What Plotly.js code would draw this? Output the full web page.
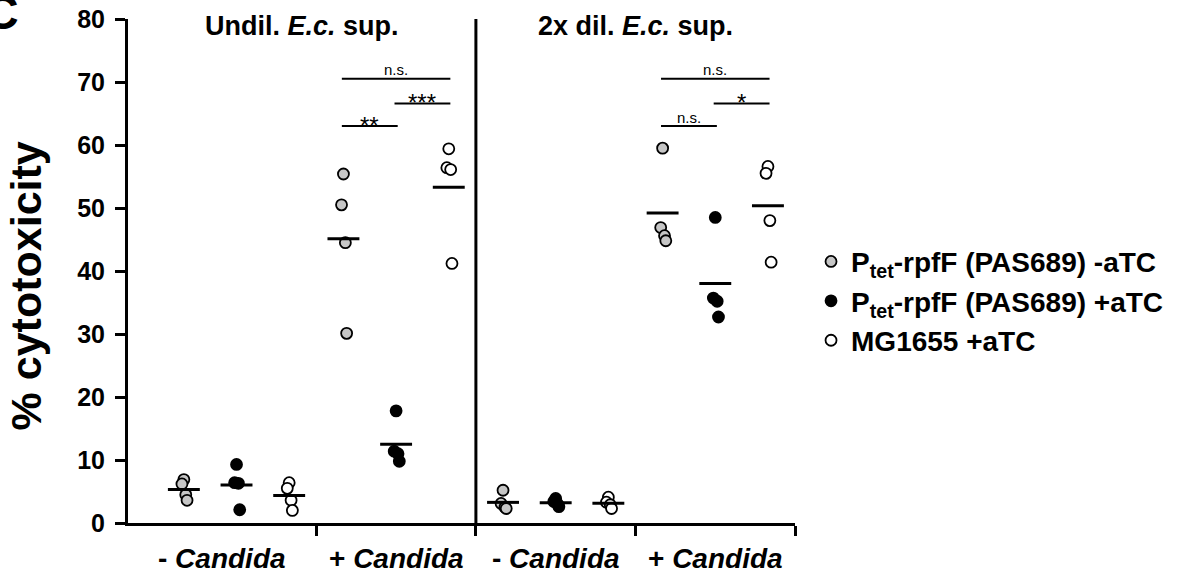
<!DOCTYPE html>
<html>
<head>
<meta charset="utf-8">
<script src="https://cdn.plot.ly/plotly-3.0.1.min.js"></script>
<style>html,body{margin:0;padding:0;background:#fff;}#chart{width:1179px;height:573px;}</style>
</head>
<body>
<div id="chart"></div>
<script>
// ---- data ----
const groupLabels = ['- <i>Candida</i>', '+ <i>Candida</i>', '- <i>Candida</i>', '+ <i>Candida</i>'];
const panelTitles = ['Undil. <i>E.c.</i> sup.', '2x dil. <i>E.c.</i> sup.'];
const strainNames = ['P<sub>tet</sub>-rpfF (PAS689) -aTC', 'P<sub>tet</sub>-rpfF (PAS689) +aTC', 'MG1655 +aTC'];
// values per group: [Undil -Candida, Undil +Candida, 2x dil -Candida, 2x dil +Candida]
const ptetMinusATC = [[6.9, 6.2, 4.5, 3.6], [55.4, 50.5, 44.5, 30.1], [5.2, 3.1, 2.5, 2.3], [59.5, 46.9, 45.6, 44.8]];
const ptetPlusATC  = [[9.3, 6.4, 6.3, 2.1], [17.8, 11.4, 11.0, 9.8], [3.9, 3.4, 3.0, 2.6], [48.5, 35.7, 35.2, 32.7]];
const mg1655PlusATC = [[6.4, 5.5, 3.6, 2.0], [59.4, 56.4, 56.1, 41.2], [4.1, 3.3, 2.9, 2.3], [56.6, 55.5, 48.0, 41.4]];
const yTicks = [0, 10, 20, 30, 40, 50, 60, 70, 80];
// significance: group (1-based), from strain, to strain, level, label
const sigGroup = [2, 2, 2, 4, 4, 4];
const sigFrom  = [0, 0, 1, 0, 0, 1];
const sigTo    = [2, 1, 2, 2, 1, 2];
const sigLevel = [70.5, 63.0, 66.6, 70.5, 63.0, 66.6];
const sigText  = ['n.s.', '**', '***', 'n.s.', 'n.s.', '*'];

// ---- styling / layout helpers ----
const allSeries = [ptetMinusATC, ptetPlusATC, mg1655PlusATC];
const fills = ['#c6c6c6', '#000000', '#ffffff'];
const strainOffset = [-0.33, 0, 0.33];
const jitter = [0.0, -0.012, 0.012, 0.02];
const FONT = 'Liberation Sans, Arial, Helvetica, sans-serif';
const xStart = 0.32, xEnd = 4.5;
const boundaries = [1.5, 2.5, 3.5, 4.5];

// page geometry (pixels)
const W = 1179, H = 573, ML = 128, MR = 10, MT = 19, MB = 50;
const paperW = W - ML - MR;
const plotRightPx = 797;
const px2paperX = px => (px - ML) / paperW;
const px2paperY = py => (H - MB - py) / (H - MT - MB);

const traces = [];
allSeries.forEach((series, s) => {
  const xs = [], ys = [];
  series.forEach((vals, g) => {
    vals.forEach((v, k) => {
      xs.push(g + 1 + strainOffset[s] + jitter[k % jitter.length]);
      ys.push(v);
    });
  });
  traces.push({
    type: 'scatter', mode: 'markers', name: strainNames[s], x: xs, y: ys,
    marker: {size: 11, color: fills[s], line: {color: '#000', width: 1.8}},
    cliponaxis: false, hoverinfo: 'y'
  });
});
// mean lines
const mx = [], my = [];
allSeries.forEach((series, s) => {
  series.forEach((vals, g) => {
    const m = vals.reduce((a, b) => a + b, 0) / vals.length;
    const c = g + 1 + strainOffset[s];
    mx.push(c - 0.1, c + 0.1, null);
    my.push(m, m, null);
  });
});
traces.push({type: 'scatter', mode: 'lines', x: mx, y: my, showlegend: false,
  line: {color: '#000', width: 3}, hoverinfo: 'skip'});

const shapes = [];
const annotations = [];
// divider between panels
shapes.push({type: 'line', xref: 'x', yref: 'y', x0: 2.5, x1: 2.5, y0: 0, y1: 80,
  line: {color: '#000', width: 3}});
// significance brackets
sigGroup.forEach((g, i) => {
  const x0 = g + strainOffset[sigFrom[i]], x1 = g + strainOffset[sigTo[i]];
  shapes.push({type: 'line', xref: 'x', yref: 'y', x0: x0 - 0.01, x1: x1 + 0.01,
    y0: sigLevel[i], y1: sigLevel[i], line: {color: '#000', width: 2}});
  const isStar = sigText[i].indexOf('*') >= 0;
  annotations.push({xref: 'x', yref: 'y', x: (x0 + x1) / 2, y: sigLevel[i],
    text: sigText[i], showarrow: false, yanchor: 'middle',
    yshift: isStar ? 1 : 9,
    font: {family: FONT, size: isStar ? 24 : 15, color: '#000'}});
});
// x group labels (centered in each segment)
const segStarts = [xStart].concat(boundaries.slice(0, 3));
groupLabels.forEach((t, g) => {
  annotations.push({xref: 'x', yref: 'paper', x: (segStarts[g] + boundaries[g]) / 2, y: 0,
    yanchor: 'middle', yshift: -35, text: t, showarrow: false,
    font: {family: FONT, size: 28, color: '#000', weight: 'bold'}});
});
// panel titles
panelTitles.forEach((t, p) => {
  const c = p === 0 ? (xStart + 2.5) / 2 : (2.5 + xEnd) / 2;
  annotations.push({xref: 'x', yref: 'paper', x: c, y: 1, yanchor: 'middle', yshift: -7,
    text: t, showarrow: false, font: {family: FONT, size: 27, color: '#000', weight: 'bold'}});
});
// y title
annotations.push({xref: 'paper', yref: 'paper', x: px2paperX(26), y: 0.47, textangle: -90,
  xanchor: 'center', yanchor: 'middle', text: '% cytotoxicity', showarrow: false,
  font: {family: FONT, size: 43, color: '#000', weight: 'bold'}});
// panel letter (cropped)
annotations.push({xref: 'paper', yref: 'paper', x: px2paperX(21), y: 0.956, xanchor: 'right',
  yanchor: 'bottom', text: 'C', showarrow: false,
  font: {family: FONT, size: 48, color: '#000', weight: 'bold'}});

const layout = {
  width: W, height: H,
  margin: {l: ML, r: MR, t: MT, b: MB, pad: 0},
  paper_bgcolor: '#fff', plot_bgcolor: '#fff',
  font: {family: FONT, color: '#000'},
  showlegend: true,
  legend: {x: px2paperX(813), y: 0.568, xanchor: 'left', yanchor: 'top', bgcolor: 'rgba(0,0,0,0)',
    font: {family: FONT, size: 28, color: '#000', weight: 'bold'}, tracegroupgap: 0},
  xaxis: {domain: [0, px2paperX(plotRightPx)], range: [xStart, xEnd], tickmode: 'array', tickvals: boundaries,
    showticklabels: false,
    ticks: 'outside', ticklen: 10, tickwidth: 3, tickcolor: '#000',
    showline: true, linewidth: 3, linecolor: '#000', showgrid: false, zeroline: false,
    fixedrange: true},
  yaxis: {range: [0, 80], tickmode: 'array', tickvals: yTicks,
    ticks: 'outside', ticklen: 10, tickwidth: 3, tickcolor: '#000', ticklabelstandoff: 5,
    tickfont: {family: FONT, size: 25, color: '#000', weight: 'bold'},
    showline: true, linewidth: 3, linecolor: '#000', showgrid: false, zeroline: false,
    fixedrange: true},
  shapes: shapes,
  annotations: annotations
};
Plotly.newPlot('chart', traces, layout, {displayModeBar: false, staticPlot: true});
</script>
</body>
</html>
